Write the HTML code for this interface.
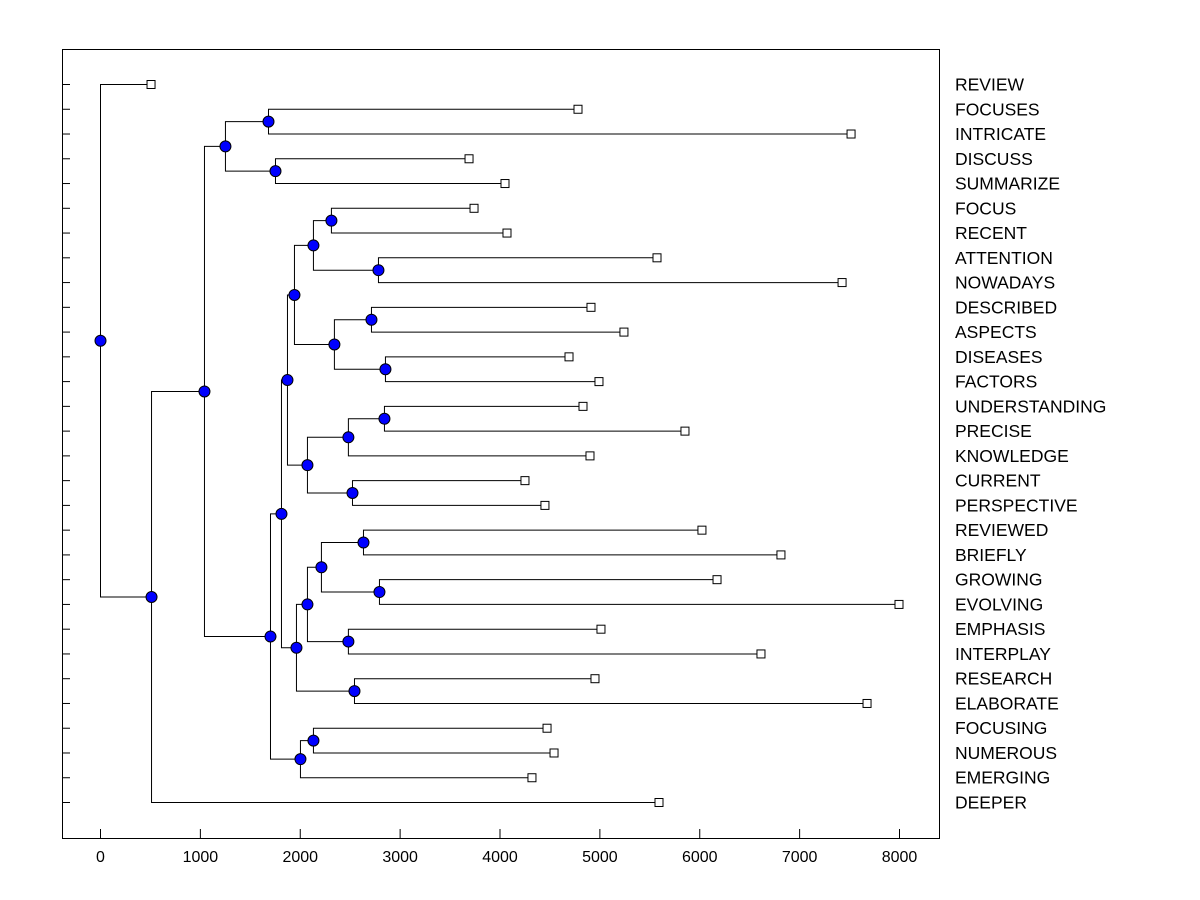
<!DOCTYPE html>
<html><head><meta charset="utf-8"><style>
html,body{margin:0;padding:0;background:#fff;}
svg{display:block;font-family:"Liberation Sans",Arial,sans-serif;}
</style></head><body>
<svg id="chart" width="1200" height="900">
<rect x="62.5" y="49.5" width="877" height="789" fill="none" stroke="#000"/>
<g id="g"></g>
</svg>
<script>
const leafLabels = ["REVIEW","FOCUSES","INTRICATE","DISCUSS","SUMMARIZE","FOCUS","RECENT","ATTENTION","NOWADAYS","DESCRIBED","ASPECTS","DISEASES","FACTORS","UNDERSTANDING","PRECISE","KNOWLEDGE","CURRENT","PERSPECTIVE","REVIEWED","BRIEFLY","GROWING","EVOLVING","EMPHASIS","INTERPLAY","RESEARCH","ELABORATE","FOCUSING","NUMEROUS","EMERGING","DEEPER"];
const leafValues = [511,4786,7520,3695,4055,3745,4075,5577,7430,4916,5246,4696,4996,4836,5857,4906,4255,4455,6027,6818,6178,8000,5016,6618,4956,7680,4476,4546,4325,5597];
const mergeIds = ["E","F","C","P","Q","N","R","S","O","L","V","T","U","M","J","AA","AB","Y","Z","W","X","K","G","I","H","D","B","A","ROOT"];
const mergeLeft = ["FOCUSES","DISCUSS","E","FOCUS","ATTENTION","P","DESCRIBED","DISEASES","R","N","UNDERSTANDING","V","CURRENT","T","L","REVIEWED","GROWING","AA","EMPHASIS","Y","RESEARCH","W","J","FOCUSING","I","G","C","B","REVIEW"];
const mergeRight = ["INTRICATE","SUMMARIZE","F","RECENT","NOWADAYS","Q","ASPECTS","FACTORS","S","O","PRECISE","KNOWLEDGE","PERSPECTIVE","U","M","BRIEFLY","EVOLVING","AB","INTERPLAY","Z","ELABORATE","X","K","NUMEROUS","EMERGING","H","D","DEEPER","A"];
const mergeValues = [1682,1752,1251,2312,2783,2132,2713,2853,2342,1942,2843,2482,2523,2072,1872,2633,2793,2212,2482,2072,2543,1962,1812,2132,2002,1702,1041,511,0];
const xTicks = [0,1000,2000,3000,4000,5000,6000,7000,8000];

const X = v => 100 + v * 799 / 8000;
const rowY = i => 84 + i * (802 - 84) / 29;
const NS = "http://www.w3.org/2000/svg";
const g = document.getElementById("g");
function mk(tag, attrs){const e=document.createElementNS(NS,tag);for(const k in attrs)e.setAttribute(k,attrs[k]);g.appendChild(e);return e;}

const pos = {};
leafLabels.forEach((l,i)=>{pos[l]={x:X(leafValues[i]),y:rowY(i)};});
mergeIds.forEach((id,i)=>{
  const a=pos[mergeLeft[i]], b=pos[mergeRight[i]], x=X(mergeValues[i]);
  pos[id]={x:x,y:(a.y+b.y)/2};
  const p=mk("path",{d:`M${a.x} ${a.y+0.5}H${x+0.5}V${b.y+0.5}H${b.x}`,fill:"none",stroke:"#000","stroke-width":1});
  
  
});
leafLabels.forEach((l,i)=>{
  const y=rowY(i);
  const t=mk("line",{x1:62,x2:70,y1:y+0.5,y2:y+0.5,stroke:"#000"});
  
  
  const s=mk("rect",{x:pos[l].x-4,y:y-3.5,width:8,height:8,fill:"#fff",stroke:"#000"});
  
  
  const tx=mk("text",{x:955,y:y+6.5,"font-size":17.5,fill:"#000"});
  tx.textContent=l;
  
  
});
mergeIds.forEach(id=>{
  const c=mk("circle",{cx:pos[id].x+0.5,cy:pos[id].y+0.5,r:5.5,fill:"#0000ff",stroke:"#000"});
  
  
});
xTicks.forEach(v=>{
  const x=X(v)+0.5;
  const t=mk("line",{x1:x,x2:x,y1:829,y2:838,stroke:"#000"});
  
  
  const tx=mk("text",{x:x,y:862,"font-size":16,"text-anchor":"middle",fill:"#000"});
  tx.textContent=v;
  
  
});
</script>
</body></html>
